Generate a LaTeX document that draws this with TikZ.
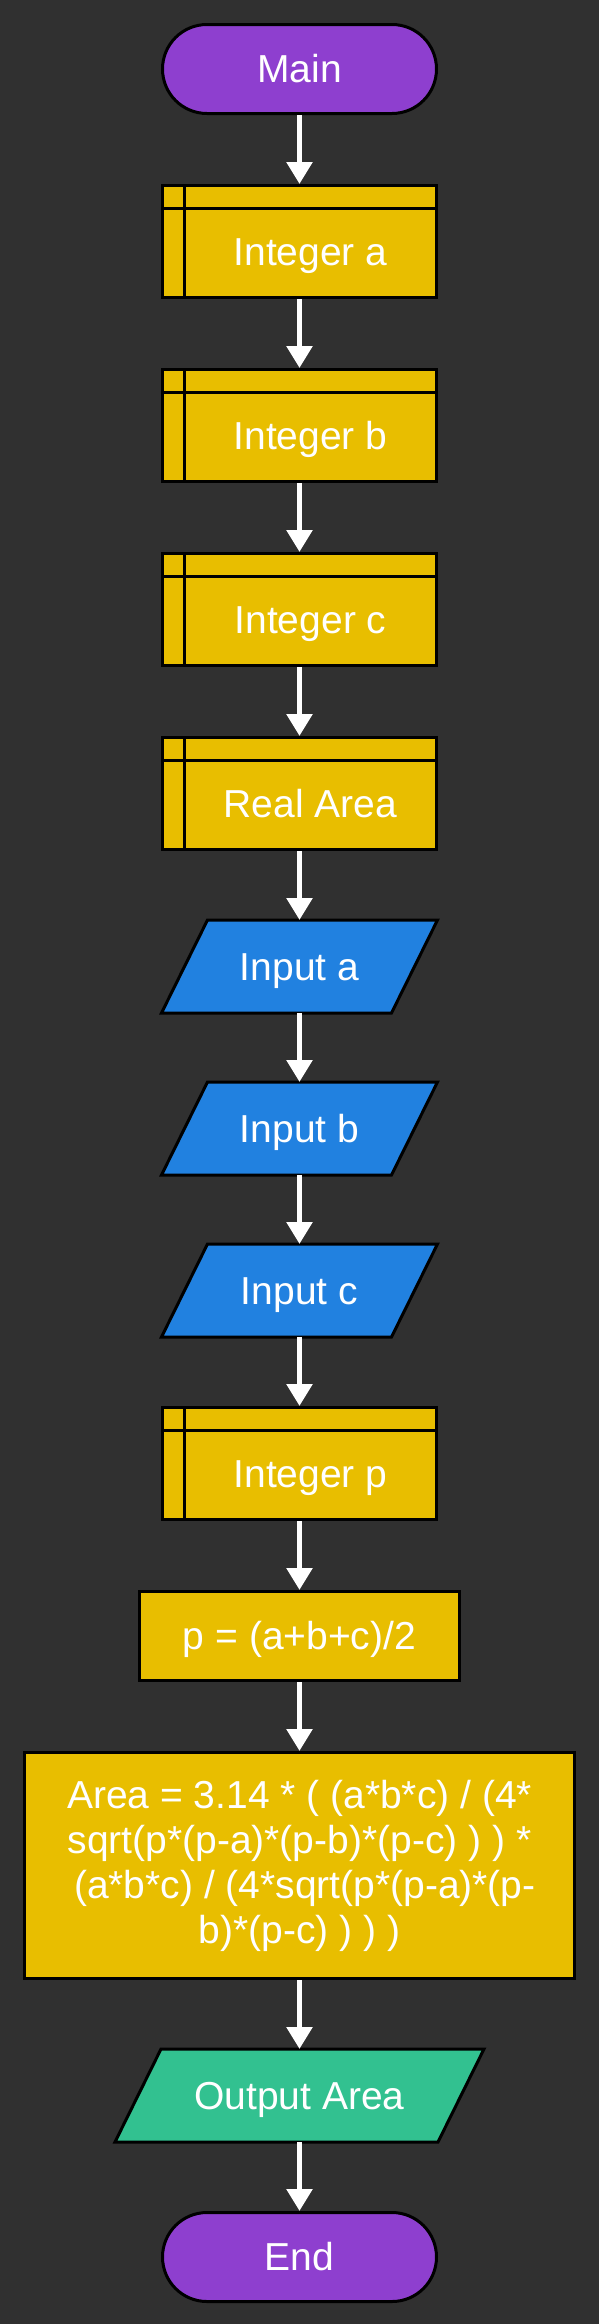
\documentclass[tikz,border=0pt]{standalone}
\usepackage{fontspec}
\setmainfont{Liberation Sans}
\usepackage{tikz}
\usetikzlibrary{arrows.meta,positioning,backgrounds}
\definecolor{cback}{HTML}{303030}
\definecolor{cpurple}{HTML}{8E3FCF}
\definecolor{cyellow}{HTML}{E8BE00}
\definecolor{cblue}{HTML}{2181E0}
\definecolor{cgreen}{HTML}{32C190}

\begin{document}
\begin{tikzpicture}[x=1pt,y=-1pt,
  font=\fontsize{39}{45}\selectfont,text=white,
  node distance=69pt,
  base/.style={draw=black,line width=3pt},
  one/.style={text height=27pt,text depth=0pt},
  term/.style={base,one,rounded corners=44.5pt,fill=cpurple,minimum width=274pt,minimum height=89pt},
  decl/.style={base,fill=cyellow,minimum width=274pt,minimum height=112pt,text height=52pt,text depth=4pt,
    execute at begin node=\hspace*{22pt},
    path picture={
      \draw[line width=3pt] ([xshift=22pt]path picture bounding box.north west)--([xshift=22pt]path picture bounding box.south west);
      \draw[line width=3pt] ([yshift=-23pt]path picture bounding box.north west)--([yshift=-23pt]path picture bounding box.north east);}},
  io/.style={one,line width=3pt,minimum width=227pt,minimum height=90pt},
  proc/.style={base,fill=cyellow},
  arr/.style={-{Triangle[length=22pt,width=25pt]},draw=white,line width=5.5pt}]
  \path[use as bounding box] (0,0) rectangle (599,2324);
  \node[term] (main) at (299.5,69) {Main};
  \node[decl,below=of main] (inta) {Integer a};
  \node[decl,below=of inta] (intb) {Integer b};
  \node[decl,below=of intb] (intc) {Integer c};
  \node[decl,below=of intc] (area) {Real Area};
  \node[io,below=of area] (ina) {Input a};
  \node[io,below=of ina] (inb) {Input b};
  \node[io,below=of inb] (inc) {Input c};
  \node[decl,below=of inc] (intp) {Integer p};
  \node[proc,one,minimum width=320pt,minimum height=89pt,below=of intp] (calcp) {p = (a+b+c)/2};
  \node[proc,align=center,minimum width=550pt,minimum height=226pt,below=of calcp] (calcarea)
      {Area = 3.14 * ( (a*b*c) / (4*\\sqrt(p*(p-a)*(p-b)*(p-c) ) ) *\\\ (a*b*c) / (4*sqrt(p*(p-a)*(p-\\b)*(p-c) ) ) )};
  \node[io,minimum width=320pt,below=of calcarea] (outa) {Output Area};
  \node[term,below=of outa] (end) {End};
  % parallelograms behind the input/output texts
  \begin{scope}[on background layer]
    \fill[cback] (0,0) rectangle (599,2324);
    \foreach \n/\c in {ina/cblue,inb/cblue,inc/cblue,outa/cgreen}
      \draw[base,fill=\c] ([xshift=23pt]\n.north west)--([xshift=23pt]\n.north east)
        --([xshift=-23pt]\n.south east)--([xshift=-23pt]\n.south west)--cycle;
  \end{scope}
  \draw[arr] (main)--(inta);
  \draw[arr] (inta)--(intb);
  \draw[arr] (intb)--(intc);
  \draw[arr] (intc)--(area);
  \draw[arr] (area)--(ina);
  \draw[arr] (ina)--(inb);
  \draw[arr] (inb)--(inc);
  \draw[arr] (inc)--(intp);
  \draw[arr] (intp)--(calcp);
  \draw[arr] (calcp)--(calcarea);
  \draw[arr] (calcarea)--(outa);
  \draw[arr] (outa)--(end);
\end{tikzpicture}
\end{document}
